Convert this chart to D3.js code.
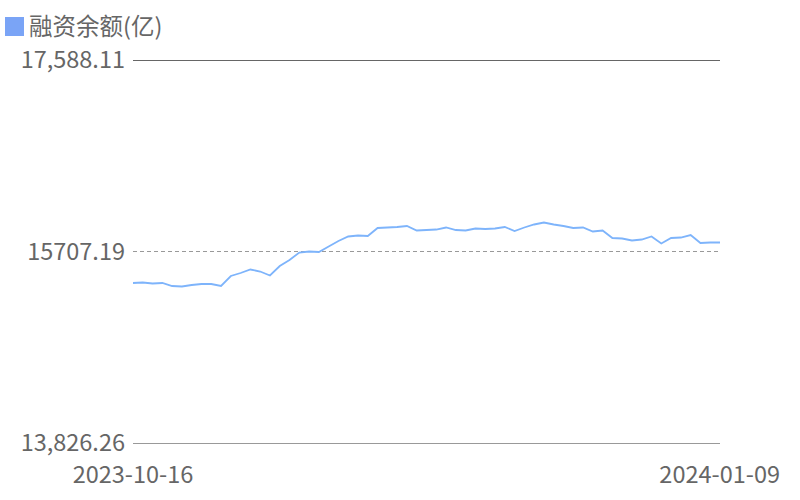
<!DOCTYPE html>
<html lang="zh">
<head>
<meta charset="utf-8">
<title>融资余额</title>
<script src="https://d3js.org/d3.v7.min.js"></script>
<style>
  body { margin: 0; background: #fff; }
  svg text { font-family: "Noto Sans CJK SC", "Noto Sans", sans-serif; fill: #666; }
</style>
</head>
<body>
<svg width="800" height="500"></svg>
<script>
// 融资余额(亿), trading days 2023-10-16 .. 2024-01-09
var seriesName = "融资余额(亿)";
var startDate = "2023-10-16", endDate = "2024-01-09";
var yTicks = [13826.26, 15707.19, 17588.11];
var yTickLabels = ["13,826.26", "15707.19", "17,588.11"];
var values = [
  15397.8, 15402.7, 15392.9, 15397.8, 15368.3, 15363.4, 15378.2, 15388.0, 15388.0, 15368.3,
  15466.5, 15496.0, 15530.4, 15510.7, 15471.4, 15564.8, 15623.7, 15697.3, 15707.2, 15702.3,
  15756.3, 15810.3, 15854.5, 15864.3, 15859.4, 15938.0, 15942.9, 15947.8, 15957.6, 15913.4,
  15918.3, 15923.2, 15942.9, 15918.3, 15913.4, 15933.1, 15928.2, 15933.1, 15947.8, 15908.5,
  15942.9, 15972.4, 15992.0, 15972.4, 15957.6, 15938.0, 15942.9, 15903.6, 15913.4, 15839.8,
  15834.9, 15815.2, 15825.0, 15854.5, 15785.7, 15839.8, 15844.7, 15869.2, 15790.7, 15795.6,
  15795.6
];

var svg = d3.select("svg"),
    plotLeft = 133, plotRight = 720, plotTop = 60, plotBottom = 443,
    fontSize = "23.5px";

var x = d3.scaleLinear().domain([0, values.length - 1]).range([plotLeft, plotRight]);
var y = d3.scaleLinear().domain([yTicks[0], yTicks[2]]).range([plotBottom, plotTop]);

// horizontal reference lines
svg.append("line")
    .attr("x1", plotLeft).attr("x2", plotRight)
    .attr("y1", Math.round(y(yTicks[2])) + 0.5).attr("y2", Math.round(y(yTicks[2])) + 0.5)
    .attr("stroke", "#666").attr("stroke-width", 1);
svg.append("line")
    .attr("x1", plotLeft).attr("x2", plotRight)
    .attr("y1", Math.round(y(yTicks[1])) + 0.5).attr("y2", Math.round(y(yTicks[1])) + 0.5)
    .attr("stroke", "#999").attr("stroke-width", 1)
    .attr("stroke-dasharray", "4,3");
svg.append("line")
    .attr("x1", plotLeft).attr("x2", plotRight)
    .attr("y1", Math.round(y(yTicks[0])) + 0.5).attr("y2", Math.round(y(yTicks[0])) + 0.5)
    .attr("stroke", "#999").attr("stroke-width", 1);

// y labels
svg.selectAll(".ylab")
    .data(yTicks)
    .enter().append("text")
    .attr("class", "ylab")
    .attr("x", 125)
    .attr("y", function(d) { return y(d); })
    .attr("dy", "0.35em")
    .attr("text-anchor", "end")
    .style("font-size", fontSize)
    .text(function(d, i) { return yTickLabels[i]; });

// x labels
svg.append("text")
    .attr("x", x(0)).attr("y", 475).attr("dy", "0.35em")
    .attr("text-anchor", "middle")
    .style("font-size", fontSize)
    .text(startDate);
svg.append("text")
    .attr("x", 780).attr("y", 475).attr("dy", "0.35em")
    .attr("text-anchor", "end")
    .style("font-size", fontSize)
    .text(endDate);

// line
var line = d3.line()
    .x(function(d, i) { return x(i); })
    .y(function(d) { return y(d); });

svg.append("path")
    .datum(values)
    .attr("d", line)
    .attr("fill", "none")
    .attr("stroke", "#7eb4fb")
    .attr("stroke-width", 1.8);

// legend
svg.append("rect")
    .attr("x", 5).attr("y", 17).attr("width", 19).attr("height", 19)
    .attr("fill", "#7aa4f6");
svg.append("text")
    .attr("x", 29).attr("y", 27).attr("dy", "0.35em")
    .style("font-size", fontSize)
    .text(seriesName);
</script>
</body>
</html>
